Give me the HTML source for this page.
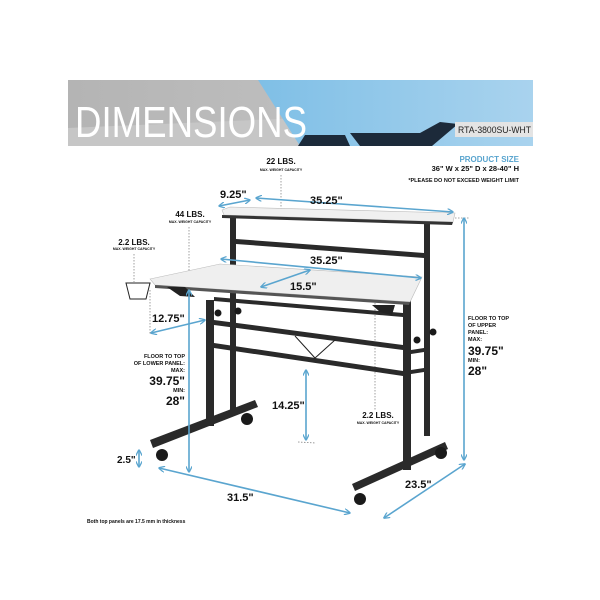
<!DOCTYPE html>
<html><head><meta charset="utf-8"><style>
html,body{margin:0;padding:0;background:#fff;}
svg{display:block;font-family:"Liberation Sans",sans-serif;}
</style></head><body>
<svg width="600" height="600" viewBox="0 0 600 600" xmlns="http://www.w3.org/2000/svg">
<defs>
<linearGradient id="g1" x1="0" x2="1"><stop offset="0" stop-color="#b4b4b4"/><stop offset="1" stop-color="#c8c8c8"/></linearGradient>
<linearGradient id="g2" x1="0" x2="1"><stop offset="0" stop-color="#7fbfe6"/><stop offset="1" stop-color="#a9d3ee"/></linearGradient>
<marker id="a" viewBox="0 0 10 10" refX="9" refY="5" markerWidth="4" markerHeight="4" orient="auto-start-reverse"><path d="M0,0 L10,5 L0,10" fill="none" stroke="#5aa5cf" stroke-width="2"/></marker>
</defs>
<!-- banner -->
<rect x="68" y="80" width="465" height="66" fill="url(#g1)"/>
<polygon points="68,128 300,118 300,146 68,146" fill="#c6c6c6"/>
<polygon points="258,80 533,80 533,146 300,146" fill="url(#g2)"/>
<polygon points="298,146 305,135 345,135 350,146" fill="#1c2a3a"/>
<polygon points="350,133 420,133 440,122 458,124 432,146 360,146" fill="#1c2a3a"/>
<text x="75" y="137" font-size="44" fill="#fff" textLength="232" lengthAdjust="spacingAndGlyphs">DIMENSIONS</text>
<rect x="455" y="122" width="78" height="15" fill="#e4e4e4"/>
<text x="458" y="133" font-size="9" fill="#222" textLength="73" lengthAdjust="spacingAndGlyphs">RTA-3800SU-WHT</text>
<!-- right texts -->
<g text-anchor="end" font-weight="bold">
<text x="519" y="162" font-size="8" fill="#5aa5cf">PRODUCT SIZE</text>
<text x="519" y="171" font-size="7.5" fill="#111">36" W x 25" D x 28-40" H</text>
<text x="519" y="182" font-size="5.5" fill="#111">*PLEASE DO NOT EXCEED WEIGHT LIMIT</text>
</g>
<g text-anchor="middle" font-weight="bold" fill="#111">
<text x="281" y="164" font-size="8">22 LBS.</text>
<text x="281" y="171" font-size="3.5">MAX. WEIGHT CAPACITY</text>
<text x="190" y="217" font-size="8">44 LBS.</text>
<text x="190" y="223" font-size="3.5">MAX. WEIGHT CAPACITY</text>
<text x="134" y="245" font-size="8">2.2 LBS.</text>
<text x="134" y="250" font-size="3.5">MAX. WEIGHT CAPACITY</text>
<text x="378" y="418" font-size="8">2.2 LBS.</text>
<text x="378" y="424" font-size="3.5">MAX. WEIGHT CAPACITY</text>
</g>
<g stroke="#888" stroke-width="0.8" stroke-dasharray="1.5,1.5" fill="none">
<line x1="281" y1="175" x2="281" y2="212"/>
<line x1="189" y1="227" x2="189" y2="272"/>
<line x1="134" y1="254" x2="134" y2="282"/>
<line x1="375" y1="300" x2="375" y2="410"/>
<line x1="150" y1="290" x2="150" y2="335"/>
<line x1="455" y1="218" x2="470" y2="218"/>
<line x1="298" y1="442" x2="316" y2="443"/>
</g>
<!-- frame -->
<g fill="#2a2a2a">
<rect x="230" y="214" width="6" height="196"/>
<rect x="424" y="224" width="6" height="212"/>
<polygon points="236,239 424,253 424,258 236,244"/>
<rect x="206" y="300" width="8" height="126"/>
<rect x="403" y="300" width="8" height="170"/>
<polygon points="214,297 403,313 403,317 214,301"/>
<polygon points="214,320 403,345 403,350 214,325"/>
<polygon points="214,343 403,371 403,376 214,348"/>
<polygon points="411,350 424,348 424,352 411,354"/>
<polygon points="411,370 424,368 424,372 411,374"/>
<polygon points="150,440 255,400 258,407 153,448"/>
<polygon points="352,484 445,442 448,449 355,491"/>
</g>
<polyline points="295,336 315,358 335,340" fill="none" stroke="#222" stroke-width="1"/>
<g fill="#1a1a1a">
<circle cx="162" cy="455" r="6"/><circle cx="247" cy="419" r="6"/>
<circle cx="360" cy="499" r="6"/><circle cx="441" cy="453" r="6"/>
<circle cx="218" cy="313" r="3.5"/><circle cx="238" cy="311" r="3.5"/>
<circle cx="417" cy="340" r="3.5"/><circle cx="433" cy="332" r="3.5"/>
</g>
<!-- panels -->
<polygon points="222,210 230,207 455,213 453,222 224,215" fill="#f0f0f0" stroke="#bbb" stroke-width="0.6"/>
<polygon points="222,215 453,222 452,225 222,218" fill="#333"/>
<polygon points="150,279 220,264 422,277 410,302 155,285" fill="#efefef" stroke="#bbb" stroke-width="0.6"/>
<polygon points="155,285 410,302 409,305 155,288" fill="#555"/>
<polygon points="167,287 185,287 195,297 180,296" fill="#222"/>
<polygon points="372,305 395,305 392,315 380,312" fill="#222"/>
<path d="M126,283 h24 l-4,16 h-16 z" fill="none" stroke="#222" stroke-width="1"/>
<!-- dimension lines -->
<g stroke="#5aa5cf" stroke-width="1.6" fill="none" marker-start="url(#a)" marker-end="url(#a)">
<line x1="219" y1="206" x2="250" y2="200"/>
<line x1="256" y1="198" x2="453" y2="212"/>
<line x1="221" y1="259" x2="421" y2="278"/>
<line x1="261" y1="287" x2="310" y2="270"/>
<line x1="151" y1="333" x2="205" y2="320"/>
<line x1="189" y1="290" x2="189" y2="472"/>
<line x1="306" y1="370" x2="306" y2="440"/>
<line x1="139" y1="450" x2="139" y2="467"/>
<line x1="159" y1="468" x2="350" y2="513"/>
<line x1="384" y1="518" x2="465" y2="464"/>
<line x1="464" y1="218" x2="464" y2="460"/>
</g>
<g font-weight="bold" fill="#111">
<text x="220" y="198" font-size="11">9.25"</text>
<text x="310" y="204" font-size="11">35.25"</text>
<text x="310" y="264" font-size="11">35.25"</text>
<text x="290" y="290" font-size="11">15.5"</text>
<text x="152" y="322" font-size="11">12.75"</text>
<text x="272" y="409" font-size="11">14.25"</text>
<text x="117" y="463" font-size="10">2.5"</text>
<text x="227" y="501" font-size="11">31.5"</text>
<text x="405" y="488" font-size="11">23.5"</text>
<g text-anchor="end">
<text x="185" y="358" font-size="5.5">FLOOR TO TOP</text>
<text x="185" y="365" font-size="5.5">OF LOWER PANEL:</text>
<text x="185" y="372" font-size="5.5">MAX:</text>
<text x="185" y="385" font-size="12">39.75"</text>
<text x="185" y="392" font-size="5.5">MIN:</text>
<text x="185" y="405" font-size="12">28"</text>
</g>
<text x="468" y="320" font-size="5.5">FLOOR TO TOP</text>
<text x="468" y="327" font-size="5.5">OF UPPER</text>
<text x="468" y="334" font-size="5.5">PANEL:</text>
<text x="468" y="341" font-size="5.5">MAX:</text>
<text x="468" y="355" font-size="12">39.75"</text>
<text x="468" y="362" font-size="5.5">MIN:</text>
<text x="468" y="375" font-size="12">28"</text>
<text x="87" y="523" font-size="5">Both top panels are 17.5 mm in thickness</text>
</g>
</svg>
</body></html>
